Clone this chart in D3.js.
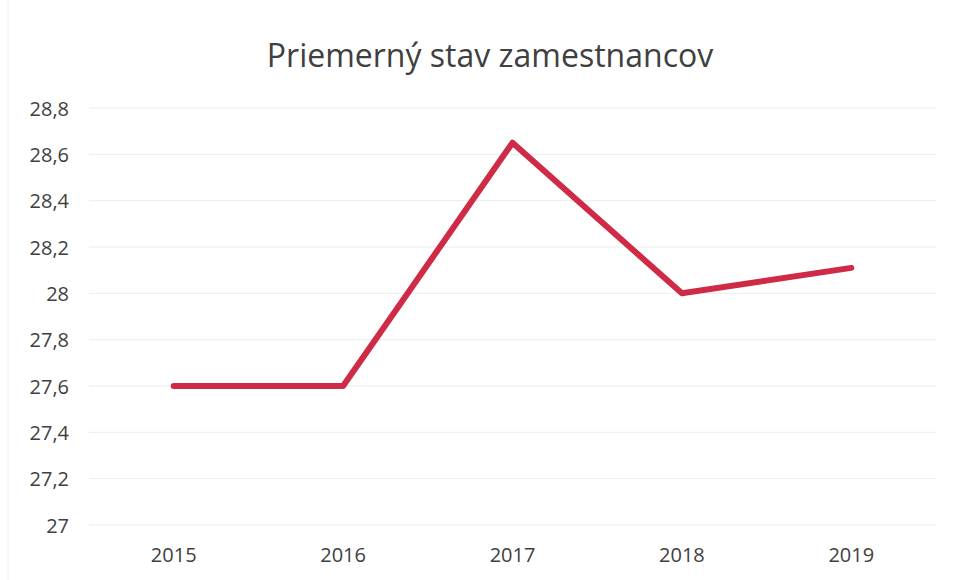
<!DOCTYPE html>
<html><head><meta charset="utf-8">
<script src="https://cdn.jsdelivr.net/npm/d3@7"></script>
<style>body{margin:0;background:#fff}svg{display:block}</style>
</head><body>
<svg id="c" width="955" height="580"></svg>
<script>
const categories = ["2015","2016","2017","2018","2019"];
const values = [27.6, 27.6, 28.65, 28.0, 28.11];
const yTicks = [27, 27.2, 27.4, 27.6, 27.8, 28, 28.2, 28.4, 28.6, 28.8];
const title = "Priemerný stav zamestnancov";

const svg = d3.select("#c");
const font = "'Open Sans', Calibri, Carlito, sans-serif";
const x = d3.scaleBand().domain(categories).range([89, 936]);
const y = d3.scaleLinear().domain([27, 28.8]).range([525, 108]);

svg.append("line").attr("x1",8).attr("x2",8).attr("y1",0).attr("y2",580).attr("stroke","#f0f0f0");

svg.append("g").selectAll("line").data(yTicks).join("line")
  .attr("x1", 89).attr("x2", 936)
  .attr("y1", d => y(d)).attr("y2", d => y(d))
  .attr("stroke", "#ececec").attr("stroke-width", 1);

const fmt = d => String(+d.toFixed(1)).replace(".", ",");
const yAxis = d3.axisLeft(y).tickValues(yTicks).tickFormat(fmt).tickSize(0).tickPadding(0);
const gy = svg.append("g").attr("transform","translate(69,0)").call(yAxis);
gy.select(".domain").remove();
gy.selectAll("text").attr("font-family", font).attr("font-size", 20).attr("fill", "#404040").attr("dy","0.35em");

const xAxis = d3.axisBottom(x).tickSize(0).tickPadding(0);
const gx = svg.append("g").attr("transform","translate(0,548)").call(xAxis);
gx.select(".domain").remove();
gx.selectAll("text").attr("font-family", font).attr("font-size", 20).attr("fill", "#404040").attr("dy","0.71em");

const line = d3.line().x((d,i) => x(categories[i]) + x.bandwidth()/2).y(d => y(d));
svg.append("path").datum(values).attr("d", line)
  .attr("fill","none").attr("stroke","#d02b46").attr("stroke-width",6)
  .attr("stroke-linecap","round").attr("stroke-linejoin","round");

svg.append("text").attr("x", 490).attr("y", 67).attr("text-anchor","middle")
  .attr("font-family", font).attr("font-size", 32).attr("fill","#404040").text(title);
</script>
</body></html>
